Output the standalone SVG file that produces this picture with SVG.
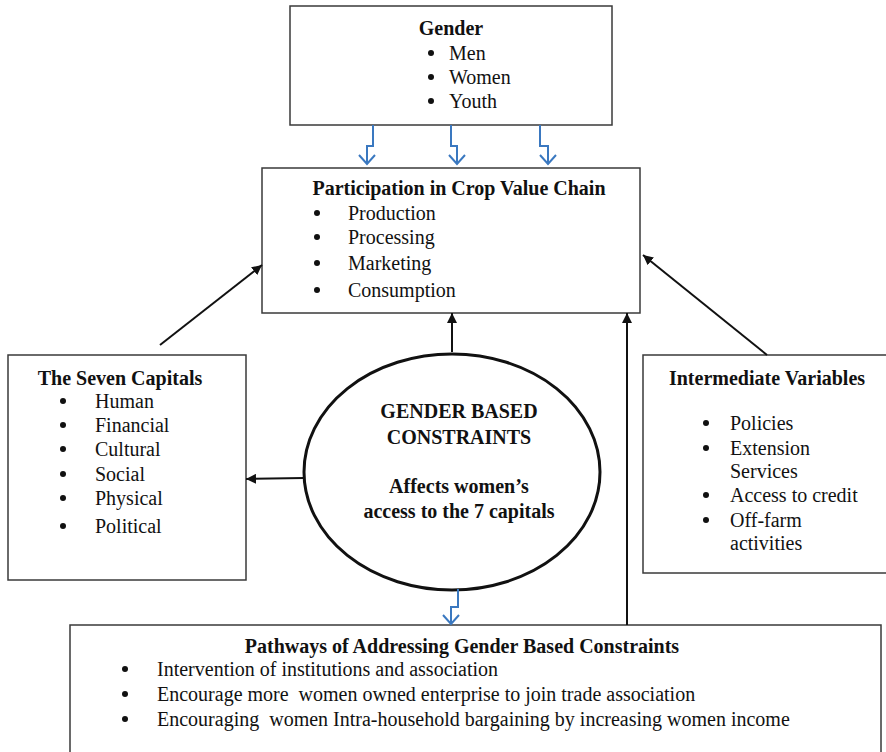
<svg xmlns="http://www.w3.org/2000/svg" width="886" height="752" viewBox="0 0 886 752">
<style>
.box{fill:#fff;stroke:#3a3a3a;stroke-width:1.5}
text{font-family:"Liberation Serif","Times New Roman",serif;font-size:20px;fill:#111;white-space:pre}
.b{font-weight:bold}
.m{text-anchor:middle}
.dot{fill:#111}
.con{stroke:#111;stroke-width:2;fill:none}
.blue{stroke:#3a78c0;stroke-width:2;fill:none}
</style>
<defs>
<marker id="ah" viewBox="0 0 10 10" refX="10" refY="5" markerWidth="10" markerHeight="10" markerUnits="userSpaceOnUse" orient="auto"><path d="M0,0 L10,5 L0,10 z" fill="#111"/></marker>
</defs>
<rect width="886" height="752" fill="#fff"/>
<g id="gender">
<rect class="box" x="290" y="6" width="322" height="119"/>
<text class="b m" x="451" y="35">Gender</text>
<circle class="dot" cx="431" cy="53" r="3"/><text x="449" y="60">Men</text>
<circle class="dot" cx="431" cy="77" r="3"/><text x="449" y="84">Women</text>
<circle class="dot" cx="431" cy="101" r="3"/><text x="449" y="108">Youth</text>
</g>
<g id="participation">
<rect class="box" x="262" y="168" width="378" height="145"/>
<text class="b m" x="459" y="195">Participation in Crop Value Chain</text>
<circle class="dot" cx="317" cy="213" r="3"/><text x="348" y="220">Production</text>
<circle class="dot" cx="317" cy="237" r="3"/><text x="348" y="244">Processing</text>
<circle class="dot" cx="317" cy="263" r="3"/><text x="348" y="270">Marketing</text>
<circle class="dot" cx="317" cy="290" r="3"/><text x="348" y="297">Consumption</text>
</g>
<g id="capitals">
<rect class="box" x="8" y="355" width="238" height="225"/>
<text class="b m" x="120" y="385">The Seven Capitals</text>
<circle class="dot" cx="63" cy="401" r="3"/><text x="95" y="408">Human</text>
<circle class="dot" cx="63" cy="425" r="3"/><text x="95" y="432">Financial</text>
<circle class="dot" cx="63" cy="449" r="3"/><text x="95" y="456">Cultural</text>
<circle class="dot" cx="63" cy="474" r="3"/><text x="95" y="481">Social</text>
<circle class="dot" cx="63" cy="498" r="3"/><text x="95" y="505">Physical</text>
<circle class="dot" cx="63" cy="526" r="3"/><text x="95" y="533">Political</text>
</g>
<g id="intermediate">
<rect class="box" x="643" y="355" width="250" height="218"/>
<text class="b m" x="767" y="385">Intermediate Variables</text>
<circle class="dot" cx="706" cy="423" r="3"/><text x="730" y="430">Policies</text>
<circle class="dot" cx="706" cy="448" r="3"/><text x="730" y="455">Extension</text>
<text x="730" y="478">Services</text>
<circle class="dot" cx="706" cy="495" r="3"/><text x="730" y="502">Access to credit</text>
<circle class="dot" cx="706" cy="520" r="3"/><text x="730" y="527">Off-farm</text>
<text x="730" y="550">activities</text>
</g>
<g id="constraints">
<ellipse cx="452" cy="472" rx="148" ry="118" fill="#fff" stroke="#111" stroke-width="3"/>
<text class="b m" x="459" y="418">GENDER BASED</text>
<text class="b m" x="459" y="444">CONSTRAINTS</text>
<text class="b m" x="459" y="493">Affects women’s</text>
<text class="b m" x="459" y="518">access to the 7 capitals</text>
</g>
<g id="pathways">
<rect class="box" x="70" y="625" width="811" height="135"/>
<text class="b m" x="462" y="653">Pathways of Addressing Gender Based Constraints</text>
<circle class="dot" cx="125" cy="669" r="3"/><text x="157" y="676">Intervention of institutions and association</text>
<circle class="dot" cx="125" cy="694" r="3"/><text x="157" y="701">Encourage more  women owned enterprise to join trade association</text>
<circle class="dot" cx="125" cy="719" r="3"/><text x="157" y="726">Encouraging  women Intra-household bargaining by increasing women income</text>
</g>
<g id="connectors">
<line class="con" x1="160" y1="345" x2="262" y2="265" marker-end="url(#ah)"/>
<line class="con" x1="452" y1="352" x2="452" y2="313" marker-end="url(#ah)"/>
<line class="con" x1="767" y1="355" x2="643" y2="255" marker-end="url(#ah)"/>
<line class="con" x1="304" y1="478" x2="246" y2="479" marker-end="url(#ah)"/>
<line class="con" x1="627" y1="625" x2="627" y2="313" marker-end="url(#ah)"/>
<path class="blue" d="M373,125 V146 H367 V164 M359,155 L367,164 L375,155"/>
<path class="blue" d="M451,125 V146 H457 V164 M449,155 L457,164 L465,155"/>
<path class="blue" d="M540,125 V146 H548 V164 M540,155 L548,164 L556,155"/>
<path class="blue" d="M458,589 V607 H451 V624 M443,615 L451,624 L459,615"/>
</g>
</svg>
